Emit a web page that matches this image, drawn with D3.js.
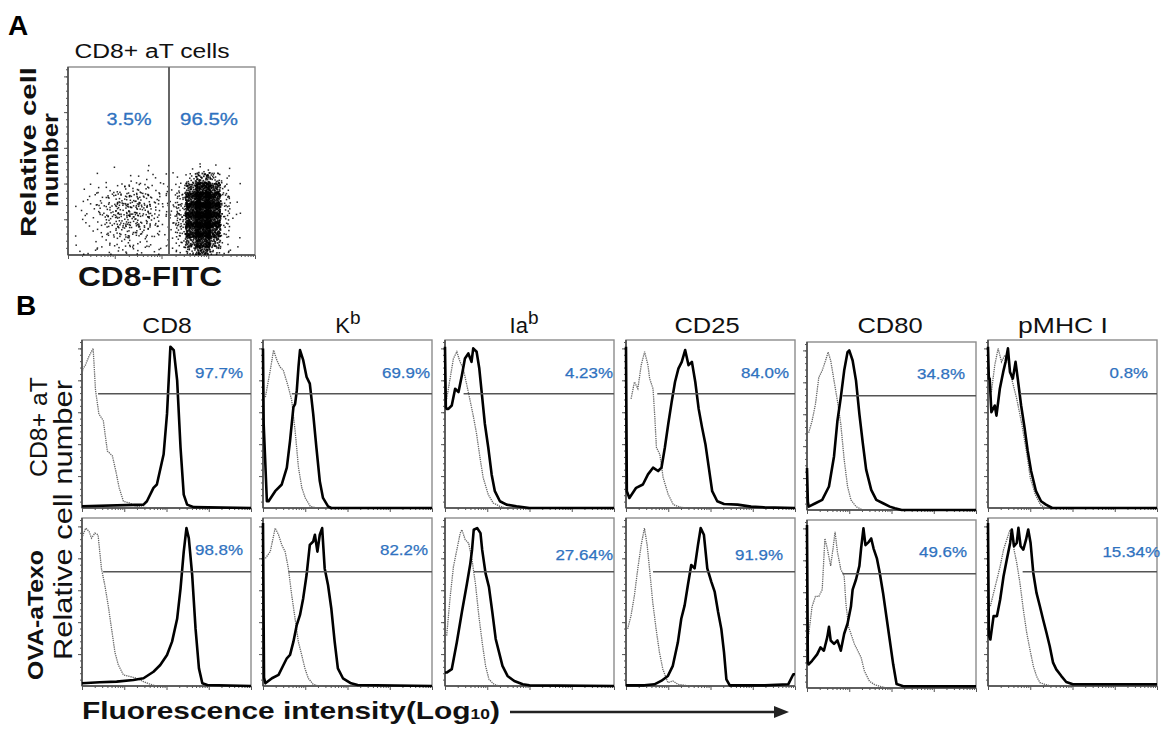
<!DOCTYPE html>
<html><head><meta charset="utf-8">
<script src="https://cdn.jsdelivr.net/npm/d3@7"></script>
<style>
body{margin:0;background:#fff}
svg{display:block}
text{font-family:"Liberation Sans",Arial,Helvetica,sans-serif}
</style>
</head><body>
<svg id="c" width="1161" height="730"></svg>
<script>
// ---------------- DATA ----------------
const colHeaders = ["CD8", "K|b", "Ia|b", "CD25", "CD80", "pMHC I"];
const rowLabels = ["CD8+ aT", "OVA-aTexo"];
const pctRow1 = ["97.7%", "69.9%", "4.23%", "84.0%", "34.8%", "0.8%"];
const pctRow2 = ["98.8%", "82.2%", "27.64%", "91.9%", "49.6%", "15.34%"];
const gateLevel = 0.68;                       // gate marker height (fraction of max)
const gateStartRow1 = [0.095, 0.17, 0.11, 0.185, 0.21, 0.19];
const gateStartRow2 = [0.125, 0.15, 0.17, 0.16, 0.21, 0.205];

// histograms: [relative log fluorescence (0-1 of 4 decades), relative cell number (0-1)]
const cd8_aT_iso = [[0,0.8],[0.006,0.83],[0.02,0.85],[0.04,0.90],[0.066,0.95],[0.08,0.7],[0.1,0.56],[0.126,0.52],[0.15,0.34],[0.18,0.31],[0.2,0.22],[0.22,0.12],[0.245,0.04],[0.28,0.03],[0.32,0.01],[0.4,0]];
const cd8_aT_stain = [[0,0.01],[0.364,0.02],[0.384,0.04],[0.423,0.12],[0.443,0.14],[0.483,0.32],[0.503,0.56],[0.513,0.76],[0.523,0.96],[0.543,0.94],[0.563,0.76],[0.583,0.36],[0.602,0.08],[0.622,0.02],[0.662,0.005],[1,0]];
const kb_aT_iso = [[0.014,0.66],[0.043,0.82],[0.0625,0.94],[0.082,0.88],[0.10,0.84],[0.12,0.82],[0.15,0.72],[0.17,0.64],[0.19,0.46],[0.21,0.24],[0.23,0.12],[0.25,0.06],[0.28,0.01],[0.32,0]];
const kb_aT_stain = [[0,0.95],[0.004,0.5],[0.023,0.04],[0.033,0.04],[0.072,0.1],[0.111,0.14],[0.141,0.24],[0.16,0.4],[0.18,0.6],[0.19,0.62],[0.2,0.70],[0.21,0.84],[0.219,0.94],[0.238,0.88],[0.258,0.78],[0.277,0.74],[0.297,0.56],[0.316,0.36],[0.336,0.16],[0.355,0.06],[0.385,0.01],[0.404,0],[1,0]];
const iab_aT_iso = [[0.01,0.65],[0.03,0.77],[0.05,0.89],[0.07,0.93],[0.089,0.87],[0.108,0.83],[0.138,0.69],[0.167,0.55],[0.187,0.44],[0.207,0.3],[0.226,0.18],[0.256,0.08],[0.285,0.03],[0.325,0.01],[0.36,0]];
const iab_aT_stain = [[0,0.96],[0.005,0.6],[0.01,0.59],[0.02,0.59],[0.04,0.61],[0.06,0.71],[0.08,0.69],[0.1,0.79],[0.118,0.89],[0.138,0.92],[0.157,0.87],[0.167,0.95],[0.187,0.93],[0.203,0.83],[0.217,0.69],[0.236,0.5],[0.256,0.36],[0.276,0.2],[0.295,0.1],[0.325,0.04],[0.364,0.02],[0.423,0.01],[0.5,0],[1,0]];
const cd25_aT_iso = [[0.03,0.65],[0.05,0.75],[0.07,0.71],[0.09,0.85],[0.11,0.93],[0.13,0.85],[0.14,0.77],[0.16,0.71],[0.17,0.55],[0.18,0.36],[0.2,0.32],[0.22,0.18],[0.25,0.08],[0.28,0.02],[0.32,0.005],[0.36,0]];
const cd25_aT_stain = [[0,0.96],[0.005,0.1],[0.02,0.06],[0.06,0.12],[0.1,0.14],[0.13,0.2],[0.16,0.24],[0.19,0.22],[0.21,0.24],[0.23,0.36],[0.25,0.5],[0.27,0.63],[0.29,0.75],[0.31,0.83],[0.33,0.87],[0.35,0.94],[0.37,0.85],[0.39,0.87],[0.41,0.75],[0.43,0.59],[0.45,0.48],[0.47,0.38],[0.49,0.24],[0.51,0.1],[0.54,0.04],[0.58,0.024],[0.66,0.02],[0.74,0.008],[0.82,0.004],[1,0]];
const cd80_aT_iso = [[0.01,0.46],[0.03,0.53],[0.05,0.63],[0.07,0.79],[0.09,0.83],[0.11,0.89],[0.125,0.94],[0.14,0.89],[0.16,0.77],[0.18,0.65],[0.2,0.51],[0.22,0.3],[0.24,0.14],[0.26,0.06],[0.29,0.02],[0.33,0]];
const cd80_aT_stain = [[0,0.25],[0.005,0.05],[0.01,0.02],[0.05,0.04],[0.09,0.06],[0.13,0.14],[0.16,0.32],[0.18,0.53],[0.2,0.67],[0.22,0.83],[0.24,0.94],[0.25,0.95],[0.27,0.89],[0.29,0.77],[0.31,0.57],[0.33,0.4],[0.35,0.24],[0.38,0.12],[0.41,0.06],[0.45,0.04],[0.49,0.02],[0.52,0.01],[0.56,0],[1,0]];
const pmhc_aT_iso = [[0.02,0.69],[0.04,0.85],[0.06,0.95],[0.08,0.87],[0.1,0.91],[0.12,0.87],[0.14,0.77],[0.17,0.65],[0.2,0.5],[0.23,0.32],[0.25,0.18],[0.28,0.08],[0.31,0.02],[0.34,0]];
const pmhc_aT_stain = [[0,0.96],[0.005,0.77],[0.01,0.77],[0.02,0.57],[0.04,0.61],[0.05,0.55],[0.07,0.71],[0.09,0.81],[0.104,0.87],[0.118,0.95],[0.13,0.81],[0.147,0.77],[0.163,0.87],[0.176,0.77],[0.196,0.61],[0.216,0.48],[0.235,0.34],[0.255,0.22],[0.284,0.1],[0.314,0.04],[0.343,0.02],[0.38,0],[1,0]];

const cd8_exo_iso = [[0,0.88],[0.006,0.9],[0.022,0.94],[0.042,0.92],[0.056,0.88],[0.076,0.91],[0.095,0.9],[0.115,0.7],[0.135,0.6],[0.155,0.48],[0.175,0.34],[0.195,0.2],[0.215,0.125],[0.245,0.066],[0.284,0.056],[0.324,0.046],[0.364,0.026],[0.404,0.01],[0.44,0]];
const cd8_exo_stain = [[0,0.016],[0.105,0.022],[0.205,0.026],[0.304,0.036],[0.364,0.046],[0.423,0.085],[0.463,0.125],[0.503,0.185],[0.533,0.264],[0.563,0.4],[0.583,0.58],[0.602,0.8],[0.618,0.94],[0.632,0.88],[0.652,0.66],[0.672,0.34],[0.692,0.105],[0.712,0.016],[0.742,0.006],[1,0]];
const kb_exo_iso = [[0.014,0.76],[0.043,0.8],[0.072,0.94],[0.092,0.9],[0.111,0.84],[0.131,0.8],[0.15,0.7],[0.17,0.54],[0.19,0.4],[0.209,0.264],[0.229,0.185],[0.248,0.105],[0.268,0.046],[0.297,0.01],[0.33,0]];
const kb_exo_stain = [[0,0.97],[0.006,0.05],[0.014,0.016],[0.053,0.046],[0.092,0.066],[0.121,0.125],[0.141,0.165],[0.16,0.185],[0.18,0.264],[0.2,0.364],[0.219,0.423],[0.238,0.523],[0.258,0.662],[0.277,0.84],[0.297,0.86],[0.307,0.9],[0.322,0.8],[0.336,0.9],[0.35,0.94],[0.365,0.7],[0.385,0.6],[0.404,0.463],[0.424,0.264],[0.443,0.105],[0.473,0.046],[0.521,0.016],[0.56,0.006],[1,0]];
const iab_exo_iso = [[0.01,0.3],[0.03,0.525],[0.05,0.71],[0.07,0.81],[0.09,0.91],[0.1,0.93],[0.12,0.87],[0.14,0.85],[0.16,0.75],[0.18,0.61],[0.2,0.42],[0.22,0.26],[0.24,0.12],[0.26,0.04],[0.29,0.01],[0.32,0]];
const iab_exo_stain = [[0,0.08],[0.01,0.08],[0.04,0.1],[0.07,0.26],[0.1,0.44],[0.13,0.61],[0.15,0.73],[0.16,0.81],[0.17,0.93],[0.19,0.94],[0.21,0.91],[0.22,0.81],[0.24,0.67],[0.26,0.59],[0.28,0.44],[0.3,0.28],[0.32,0.2],[0.34,0.12],[0.37,0.06],[0.41,0.03],[0.46,0.01],[0.5,0.004],[1,0]];
const cd25_exo_iso = [[0.01,0.34],[0.03,0.42],[0.05,0.54],[0.07,0.7],[0.09,0.84],[0.109,0.94],[0.125,0.84],[0.139,0.7],[0.158,0.5],[0.178,0.34],[0.198,0.2],[0.218,0.1],[0.248,0.02],[0.277,0.03],[0.307,0.01],[0.347,0.004],[0.38,0]];
const cd25_exo_stain = [[0,0.004],[0.109,0.004],[0.168,0.01],[0.208,0.03],[0.248,0.06],[0.277,0.12],[0.307,0.26],[0.327,0.4],[0.347,0.48],[0.366,0.6],[0.386,0.72],[0.406,0.7],[0.426,0.84],[0.442,0.94],[0.461,0.9],[0.481,0.7],[0.505,0.62],[0.525,0.56],[0.545,0.44],[0.564,0.34],[0.58,0.2],[0.594,0.04],[0.614,0.004],[0.822,0.004],[0.96,0.01],[0.99,0.07],[1,0.07]];
const cd80_exo_iso = [[0.01,0.32],[0.03,0.485],[0.05,0.545],[0.07,0.545],[0.09,0.586],[0.106,0.89],[0.12,0.83],[0.14,0.727],[0.154,0.83],[0.166,0.93],[0.18,0.81],[0.2,0.707],[0.22,0.667],[0.23,0.505],[0.246,0.364],[0.26,0.323],[0.28,0.263],[0.3,0.222],[0.32,0.182],[0.34,0.1],[0.37,0.04],[0.4,0.02],[0.43,0.01],[0.47,0]];
const cd80_exo_stain = [[0,0.97],[0.005,0.15],[0.01,0.141],[0.03,0.162],[0.06,0.2],[0.08,0.242],[0.1,0.222],[0.12,0.303],[0.13,0.364],[0.14,0.283],[0.16,0.263],[0.18,0.283],[0.2,0.222],[0.22,0.323],[0.24,0.384],[0.26,0.485],[0.27,0.586],[0.29,0.646],[0.31,0.727],[0.32,0.83],[0.334,0.95],[0.346,0.85],[0.366,0.87],[0.38,0.89],[0.394,0.83],[0.414,0.77],[0.43,0.687],[0.45,0.566],[0.47,0.424],[0.49,0.283],[0.51,0.141],[0.53,0.024],[0.57,0.01],[0.69,0.01],[1,0.01]];
const pmhc_exo_iso = [[0.014,0.475],[0.033,0.554],[0.053,0.634],[0.072,0.713],[0.092,0.812],[0.111,0.871],[0.131,0.931],[0.141,0.911],[0.154,0.812],[0.17,0.733],[0.189,0.614],[0.209,0.455],[0.229,0.317],[0.248,0.218],[0.268,0.119],[0.287,0.059],[0.307,0.02],[0.336,0.01],[0.37,0]];
const pmhc_exo_stain = [[0,0.97],[0.005,0.3],[0.014,0.277],[0.033,0.416],[0.053,0.416],[0.072,0.515],[0.092,0.653],[0.111,0.752],[0.131,0.851],[0.141,0.931],[0.154,0.832],[0.17,0.851],[0.18,0.941],[0.193,0.832],[0.209,0.812],[0.225,0.871],[0.238,0.931],[0.252,0.851],[0.268,0.673],[0.287,0.554],[0.307,0.475],[0.326,0.396],[0.346,0.317],[0.365,0.238],[0.385,0.139],[0.404,0.099],[0.434,0.059],[0.463,0.024],[0.502,0.01],[1,0.01]];

// Panel A: dot-plot density (events per grid cell), rows top -> bottom, columns left -> right
const scatterDensity = [
  [0,0,0,1,0,1,1,1,1, 0,0,2,4,3,1,0],
  [0,0,1,0,1,2,2,2,1, 1,4,18,45,30,5,1],
  [1,2,3,5,7,9,8,5,3, 3,10,55,110,80,9,1],
  [2,4,6,10,14,16,14,9,4, 5,18,90,135,110,14,2],
  [2,4,8,12,18,18,16,10,4, 6,24,100,145,120,16,2],
  [1,3,6,12,16,18,14,8,3, 6,24,100,145,110,14,2],
  [1,2,4,9,12,12,10,6,2, 5,18,90,125,90,10,1],
  [0,1,2,5,7,7,5,3,2, 4,12,55,100,50,5,1],
  [3,3,3,3,4,4,3,3,3, 2,5,22,45,16,3,3]
];
const scatterGate = 0.54;        // CD8-FITC gate position (fraction of axis)
const scatterPct = ["3.5%", "96.5%"];

// ---------------- LAYOUT ----------------
const svg = d3.select("#c");
const BLUE = "#2f72c0";
const colLeft = [82, 263, 445, 626, 807, 988];
const colYOff = [0, 0, 0, 0, 2, 0];
const panelW = 169, panelH = 168;
const rowTop = [340, 518];
const pctDx = [[-8,-2,-1,-6,-11,-9],[-8,-4,-1,-12,-9,3]];
const pctDy = [[38,38,38,38,37,38],[37,37,42,42,37,39]];

const isoCurves = [
  [cd8_aT_iso, kb_aT_iso, iab_aT_iso, cd25_aT_iso, cd80_aT_iso, pmhc_aT_iso],
  [cd8_exo_iso, kb_exo_iso, iab_exo_iso, cd25_exo_iso, cd80_exo_iso, pmhc_exo_iso]
];
const stainCurves = [
  [cd8_aT_stain, kb_aT_stain, iab_aT_stain, cd25_aT_stain, cd80_aT_stain, pmhc_aT_stain],
  [cd8_exo_stain, kb_exo_stain, iab_exo_stain, cd25_exo_stain, cd80_exo_stain, pmhc_exo_stain]
];
const pcts = [pctRow1, pctRow2];
const gates = [gateStartRow1, gateStartRow2];

// log tick positions (4 decades)
const majorX = d3.range(0, 5).map(d => d / 4);
const minorX = [];
for (let d = 0; d < 4; d++) for (let m = 2; m < 10; m++) minorX.push((d + Math.log10(m)) / 4);
const majorY = d3.range(1, 6).map(k => k * 0.19);
const minorY = d3.range(1, 27).map(k => k * 0.038).filter(v => v < 1);

function drawAxes(g, x, y) {
  const ax1 = g.append("g").attr("transform", `translate(0,${y.range()[0]})`)
    .call(d3.axisBottom(x).tickValues(majorX).tickSize(4).tickFormat(""));
  const ax2 = g.append("g").attr("transform", `translate(0,${y.range()[0]})`)
    .call(d3.axisBottom(x).tickValues(minorX).tickSize(2).tickFormat(""));
  const ay1 = g.append("g").attr("transform", `translate(${x.range()[0]},0)`)
    .call(d3.axisLeft(y).tickValues(majorY).tickSize(4).tickFormat(""));
  const ay2 = g.append("g").attr("transform", `translate(${x.range()[0]},0)`)
    .call(d3.axisLeft(y).tickValues(minorY).tickSize(2).tickFormat(""));
  [ax1, ax2, ay1, ay2].forEach(a => {
    a.select(".domain").remove();
    a.selectAll("line").attr("stroke", "#555").attr("stroke-width", 1);
  });
  g.append("rect").attr("x", x.range()[0]).attr("y", y.range()[1])
    .attr("width", x.range()[1] - x.range()[0]).attr("height", y.range()[0] - y.range()[1])
    .attr("fill", "none").attr("stroke", "#8c8c8c").attr("stroke-width", 1.4);
  g.append("line").attr("x1", x.range()[0]).attr("x2", x.range()[0])
    .attr("y1", y.range()[1]).attr("y2", y.range()[0]).attr("stroke", "#444").attr("stroke-width", 1.5);
  g.append("line").attr("x1", x.range()[0]).attr("x2", x.range()[1])
    .attr("y1", y.range()[0]).attr("y2", y.range()[0]).attr("stroke", "#444").attr("stroke-width", 1.5);
}

// ---------------- PANEL B ----------------
for (let r = 0; r < 2; r++) {
  for (let c = 0; c < 6; c++) {
    const x0 = colLeft[c], y0 = rowTop[r] + colYOff[c];
    const x = d3.scaleLinear().domain([0, 1]).range([x0, x0 + panelW]);
    const y = d3.scaleLinear().domain([0, 1]).range([y0 + panelH, y0]);
    const g = svg.append("g");
    drawAxes(g, x, y);
    const line = d3.line().x(d => x(d[0])).y(d => y(d[1]));
    g.append("path").datum(isoCurves[r][c]).attr("d", line)
      .attr("fill", "none").attr("stroke", "#666").attr("stroke-width", 1.3)
      .attr("stroke-dasharray", "1.3,0.9");
    g.append("path").datum(stainCurves[r][c]).attr("d", line)
      .attr("fill", "none").attr("stroke", "#000").attr("stroke-width", 2.6)
      .attr("stroke-linejoin", "round");
    g.append("line").attr("x1", x(gates[r][c])).attr("x2", x(1))
      .attr("y1", y(gateLevel)).attr("y2", y(gateLevel))
      .attr("stroke", "#555").attr("stroke-width", 1.6);
    const t = pcts[r][c];
    g.append("text").attr("x", x(1) + pctDx[r][c]).attr("y", y0 + pctDy[r][c])
      .attr("text-anchor", "end").attr("fill", BLUE).attr("font-size", 14.5)
      .attr("stroke", BLUE).attr("stroke-width", 0.25)
      .attr("textLength", t.length * 9.6).attr("lengthAdjust", "spacingAndGlyphs")
      .text(t);
  }
}

// column headers
const headerX = [167, 348, 524, 707, 890, 1063];
colHeaders.forEach((h, i) => {
  const parts = h.split("|");
  const t = svg.append("text").attr("x", headerX[i]).attr("y", 333)
    .attr("text-anchor", "middle").attr("font-size", 22).attr("fill", "#111");
  t.append("tspan").text(parts[0]);
  if (parts[1]) t.append("tspan").attr("dy", -9).attr("font-size", 19).text(parts[1]);
  if (!parts[1]) t.attr("textLength", h.length * 15.8 + (h.length > 4 ? -5 : 2)).attr("lengthAdjust", "spacingAndGlyphs");
});

// row labels
svg.append("text").attr("transform", "translate(47,427) rotate(-90)")
  .attr("text-anchor", "middle").attr("font-size", 23).attr("fill", "#111")
  .attr("textLength", 100).attr("lengthAdjust", "spacingAndGlyphs").text(rowLabels[0]);
svg.append("text").attr("transform", "translate(43,615) rotate(-90)")
  .attr("text-anchor", "middle").attr("font-size", 22).attr("font-weight", "bold").attr("fill", "#111")
  .attr("textLength", 130).attr("lengthAdjust", "spacingAndGlyphs").text(rowLabels[1]);
svg.append("text").attr("transform", "translate(72,520) rotate(-90)")
  .attr("text-anchor", "middle").attr("font-size", 26).attr("fill", "#111")
  .attr("textLength", 280).attr("lengthAdjust", "spacingAndGlyphs").text("Relative cell number");

// x axis title + arrow
const xt = svg.append("text").attr("x", 82).attr("y", 719).attr("font-size", 24)
  .attr("font-weight", "bold").attr("fill", "#111")
  .attr("textLength", 418).attr("lengthAdjust", "spacingAndGlyphs");
xt.append("tspan").text("Fluorescence intensity(Log");
xt.append("tspan").attr("font-size", 14).text("10");
xt.append("tspan").text(")");
svg.append("line").attr("x1", 510).attr("x2", 776).attr("y1", 712).attr("y2", 712)
  .attr("stroke", "#222").attr("stroke-width", 2.4);
svg.append("path").attr("d", "M774,706 L789,712 L774,718 Z").attr("fill", "#222");

// panel letters
svg.append("text").attr("x", 8).attr("y", 35).attr("font-size", 28).attr("font-weight", "bold").text("A");
svg.append("text").attr("x", 16).attr("y", 315).attr("font-size", 28).attr("font-weight", "bold").text("B");

// ---------------- PANEL A ----------------
{
  const x = d3.scaleLinear().domain([0, 1]).range([68, 255]);
  const y = d3.scaleLinear().domain([0, 1]).range([255, 67]);
  const g = svg.append("g");
  drawAxes(g, x, y);
  const nRows = scatterDensity.length;
  const cellW = 0.0535, cellH = 0.0532, gx0 = 0.0535, spread = 1.5;
  function halton(i, b) { let f = 1, r = 0; while (i > 0) { f /= b; r += f * (i % b); i = Math.floor(i / b); } return r; }
  const pts = [];
  let counter = 1000;                    // running index into the low-discrepancy sequence
  scatterDensity.forEach((row, ri) => row.forEach((n, ci) => {
    const cy = (nRows - 1 - ri + 0.5) * cellH;
    const cx = gx0 + (ci + 0.5) * cellW;
    const sy = ri === nRows - 1 ? 1 : spread;   // bottom row hugs the axis
    for (let k = 0; k < n; k++) {
      counter++;
      const px = cx + (halton(counter, 2) - 0.5) * cellW * spread;
      let py = cy + (halton(counter, 3) - 0.5) * cellH * sy;
      if (py < 0.004) py = 0.004;
      pts.push([px, py, n]);
    }
  }));
  g.selectAll("rect.dot").data(pts).join("rect").attr("class", "dot")
    .attr("x", d => x(d[0]) - (d[2] > 40 ? 0.9 : 0.75)).attr("y", d => y(d[1]) - (d[2] > 40 ? 0.9 : 0.75))
    .attr("width", d => d[2] > 40 ? 1.8 : 1.5).attr("height", d => d[2] > 40 ? 1.8 : 1.5)
    .attr("fill", "#000").attr("opacity", 0.85);
  g.append("line").attr("x1", x(scatterGate)).attr("x2", x(scatterGate))
    .attr("y1", y(1)).attr("y2", y(0)).attr("stroke", "#666").attr("stroke-width", 2);
  g.append("text").attr("x", 129).attr("y", 125).attr("text-anchor", "middle")
    .attr("fill", BLUE).attr("stroke", BLUE).attr("stroke-width", 0.3).attr("font-size", 17)
    .attr("textLength", 45).attr("lengthAdjust", "spacingAndGlyphs").text(scatterPct[0]);
  g.append("text").attr("x", 209).attr("y", 125).attr("text-anchor", "middle")
    .attr("fill", BLUE).attr("stroke", BLUE).attr("stroke-width", 0.3).attr("font-size", 17)
    .attr("textLength", 58).attr("lengthAdjust", "spacingAndGlyphs").text(scatterPct[1]);
  svg.append("text").attr("x", 152).attr("y", 58).attr("text-anchor", "middle").attr("font-size", 20)
    .attr("fill", "#111").attr("textLength", 155).attr("lengthAdjust", "spacingAndGlyphs").text("CD8+ aT cells");
  svg.append("text").attr("transform", "translate(36,152) rotate(-90)").attr("text-anchor", "middle")
    .attr("font-size", 22).attr("font-weight", "bold").attr("fill", "#111")
    .attr("textLength", 170).attr("lengthAdjust", "spacingAndGlyphs").text("Relative cell");
  svg.append("text").attr("transform", "translate(58,160) rotate(-90)").attr("text-anchor", "middle")
    .attr("font-size", 22).attr("font-weight", "bold").attr("fill", "#111")
    .attr("textLength", 94).attr("lengthAdjust", "spacingAndGlyphs").text("number");
  svg.append("text").attr("x", 150).attr("y", 286).attr("text-anchor", "middle").attr("font-size", 28)
    .attr("font-weight", "bold").attr("fill", "#111")
    .attr("textLength", 144).attr("lengthAdjust", "spacingAndGlyphs").text("CD8-FITC");
}
</script>
</body></html>
